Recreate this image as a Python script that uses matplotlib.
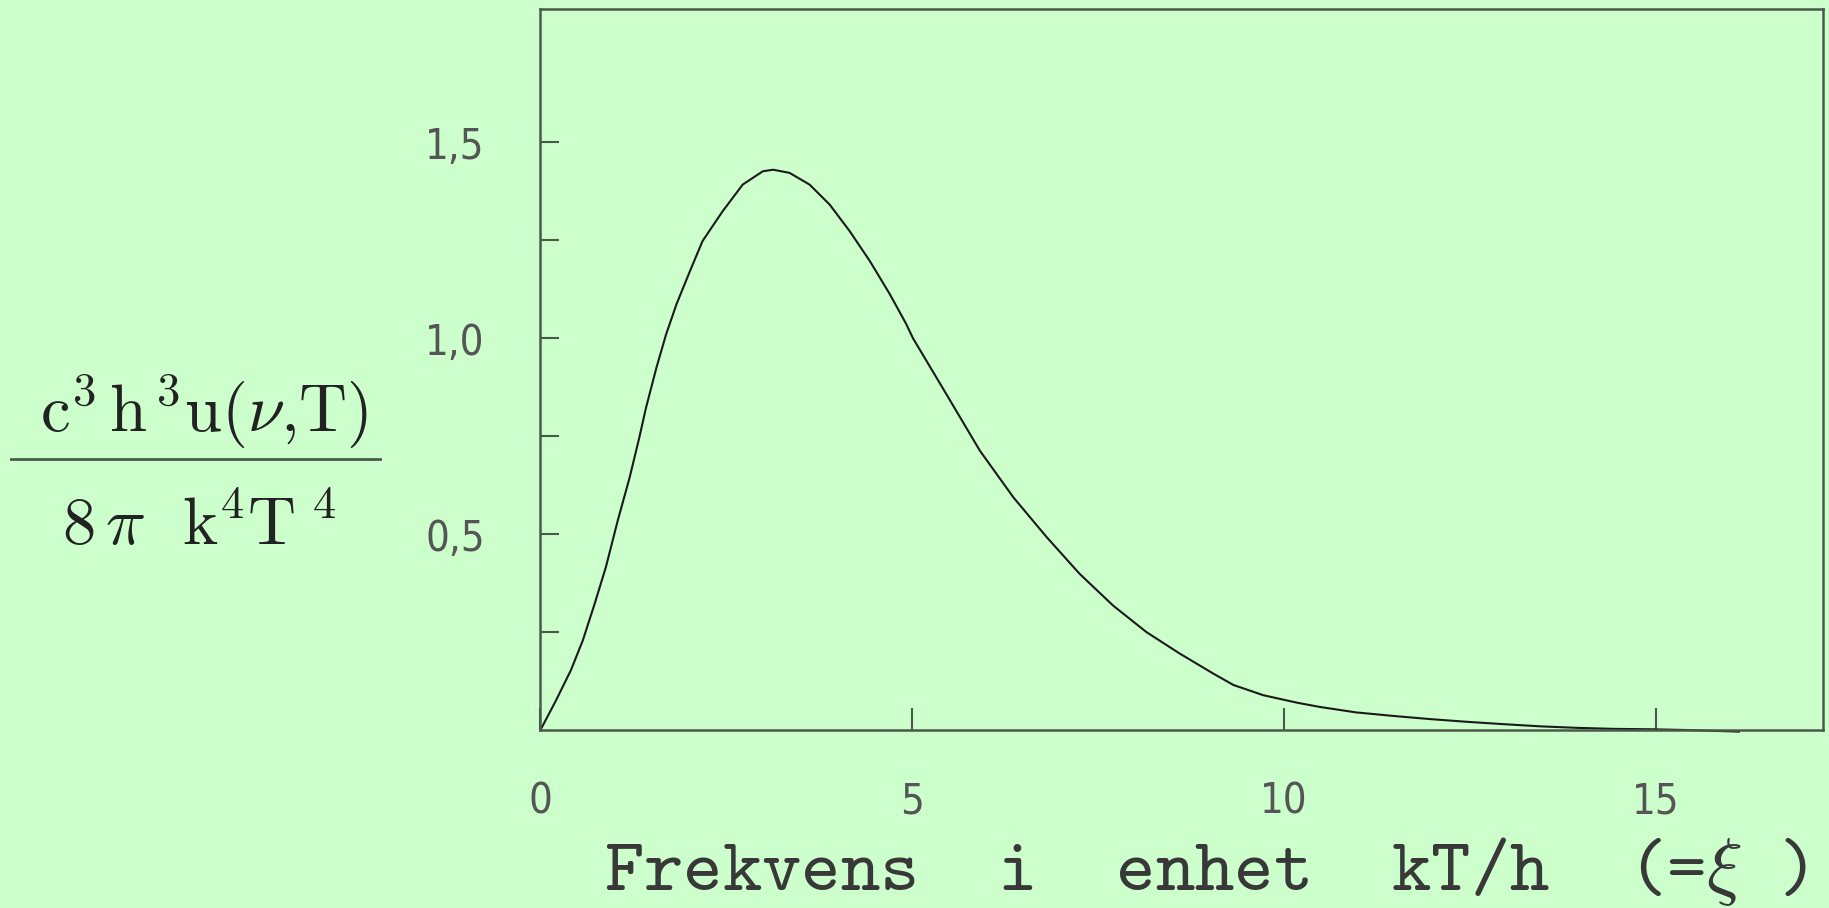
import matplotlib
matplotlib.use("Agg")
import matplotlib.pyplot as plt
from matplotlib.lines import Line2D
import numpy as np

# punkter (xi, y)
xi = [0.0, 0.21, 0.41, 0.57, 0.73, 0.88, 1.04, 1.20, 1.33, 1.42, 1.56, 1.69,
      1.83, 2.01, 2.18, 2.45, 2.72, 2.99, 3.13, 3.35, 3.62, 3.89, 4.16, 4.43,
      4.70, 4.92, 5.01, 5.46, 5.91, 6.36, 6.81, 7.25, 7.70, 8.15, 8.60, 9.05,
      9.32, 9.72, 10.17, 10.48, 10.97, 11.47, 11.96, 12.46, 12.95, 13.45,
      13.94, 14.43, 14.93, 15.42, 16.12]
u = [0.0, 0.076, 0.153, 0.229, 0.323, 0.416, 0.535, 0.645, 0.747, 0.823,
     0.925, 1.01, 1.087, 1.171, 1.248, 1.324, 1.392, 1.426, 1.430, 1.422,
     1.392, 1.341, 1.273, 1.197, 1.112, 1.036, 1.00, 0.857, 0.713, 0.594,
     0.492, 0.399, 0.318, 0.250, 0.195, 0.144, 0.115, 0.089, 0.070, 0.059,
     0.045, 0.036, 0.028, 0.021, 0.015, 0.0094, 0.0056, 0.003, 0.002, 0.0,
     -0.004]

xticks = [0, 5, 10, 15]
xticklabels = ["0", "5", "10", "15"]
yticks = [0.5, 1.0, 1.5]
yticklabels = ["0,5", "1,0", "1,5"]
yminor = [0.25, 0.75, 1.25]

bg = "#ccffcc"
spine = "#4a5a4a"
tickfont = dict(family="DejaVu Sans", stretch="condensed", weight="light", size=30, color="#555555")

plt.rcParams["mathtext.fontset"] = "cm"

fig = plt.figure(figsize=(18.29, 9.08), dpi=100)
fig.patch.set_facecolor(bg)
ax = fig.add_axes([0.2955, 0.196, 0.7012, 0.794])
ax.set_facecolor(bg)

ax.plot(xi, u, color="#1a1a1a", lw=1.5, clip_on=False, solid_joinstyle="round")

ax.set_xlim(0, 17.25)
ax.set_ylim(0, 1.84)

for s in ax.spines.values():
    s.set_color(spine)
    s.set_linewidth(1.8)

ax.set_xticks(xticks)
ax.set_xticklabels(xticklabels, fontdict=tickfont)
ax.set_yticks(yticks)
ax.set_yticklabels(yticklabels, fontdict=tickfont)
ax.set_yticks(yminor, minor=True)
ax.tick_params(axis="both", which="both", direction="in", color=spine, width=1.5)
ax.tick_params(axis="y", which="both", length=14, pad=40)
ax.tick_params(axis="x", which="major", length=16, pad=36)

# x-akse tekst
fig.text(0.659, 0.020, r"Frekvens  i  enhet  kT/h  (=$\xi$ )", family="cmtt10",
         fontsize=54, color="#383838", ha="center", va="baseline")

# brøk som y-akse tekst
fig.text(0.1116, 0.524, r"$\mathrm{c}^3\,\mathrm{h}^{\,3}\mathrm{u}(\nu{,}\mathrm{T})$",
         ha="center", va="baseline", fontsize=48, color="#222222")
fig.text(0.109, 0.400, r"$8\,\pi\ \ \mathrm{k}^4\mathrm{T}^{\ 4}$",
         ha="center", va="baseline", fontsize=48, color="#222222")
fig.add_artist(Line2D([0.006, 0.208], [0.495, 0.495], transform=fig.transFigure,
                      color="#4a5a4a", lw=2))

fig.savefig("out.png", dpi=100, facecolor=bg)
